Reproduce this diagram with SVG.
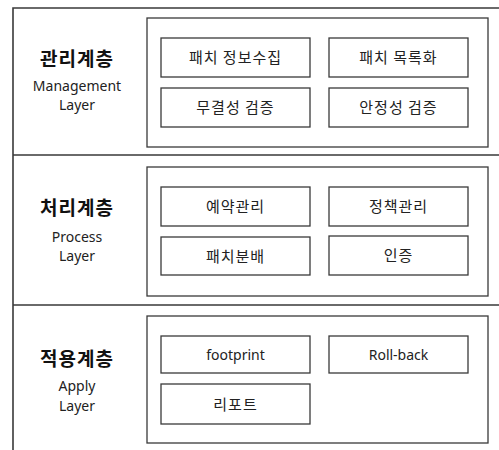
<svg xmlns="http://www.w3.org/2000/svg" width="499" height="450" viewBox="0 0 499 450">
<style>
.frame{fill:none;stroke:#3a3a3a;stroke-width:1.6}
.box{fill:#fff;stroke:#3a3a3a;stroke-width:1.3}
.t{font-family:"Noto Sans CJK KR","Noto Sans",sans-serif;font-size:15px;letter-spacing:1px;fill:#222;text-anchor:middle}
.h{font-family:"Noto Sans CJK KR","Noto Sans",sans-serif;font-size:19px;letter-spacing:1px;font-weight:bold;fill:#111;text-anchor:middle}
.e{font-family:"Noto Sans","Noto Sans CJK KR",sans-serif;font-size:14px;fill:#222;text-anchor:middle}
</style>
<rect width="499" height="450" fill="#fff"/>
<g id="frame">
<path class="frame" d="M499 8 H13 V450 M13 155 H499 M13 305 H499"/>
</g>
<g id="management">
<text class="h" x="77" y="66">관리계층</text>
<text class="e" x="77" y="91">Management</text>
<text class="e" x="77" y="110">Layer</text>
<rect class="box" x="147" y="18" width="341" height="129"/>
<g id="m1"><rect class="box" x="161" y="38" width="149" height="39"/><text class="t" x="235.5" y="63">패치 정보수집</text></g>
<g id="m2"><rect class="box" x="329" y="38" width="139" height="39"/><text class="t" x="398.5" y="63">패치 목록화</text></g>
<g id="m3"><rect class="box" x="161" y="88" width="149" height="39"/><text class="t" x="235.5" y="113">무결성 검증</text></g>
<g id="m4"><rect class="box" x="329" y="88" width="139" height="39"/><text class="t" x="398.5" y="113">안정성 검증</text></g>
</g>
<g id="process">
<text class="h" x="77" y="215">처리계층</text>
<text class="e" x="77" y="242">Process</text>
<text class="e" x="77" y="261">Layer</text>
<rect class="box" x="147" y="167" width="341" height="129"/>
<g id="p1"><rect class="box" x="161" y="187" width="149" height="39"/><text class="t" x="235.5" y="212">예약관리</text></g>
<g id="p2"><rect class="box" x="329" y="187" width="139" height="39"/><text class="t" x="398.5" y="212">정책관리</text></g>
<g id="p3"><rect class="box" x="161" y="237" width="149" height="38"/><text class="t" x="235.5" y="262">패치분배</text></g>
<g id="p4"><rect class="box" x="329" y="236" width="139" height="39"/><text class="t" x="398.5" y="261">인증</text></g>
</g>
<g id="apply">
<text class="h" x="77" y="366">적용계층</text>
<text class="e" x="77" y="391">Apply</text>
<text class="e" x="77" y="411">Layer</text>
<rect class="box" x="147" y="316" width="341" height="127"/>
<g id="a1"><rect class="box" x="161" y="336" width="149" height="37"/><text class="e" x="235.5" y="360">footprint</text></g>
<g id="a2"><rect class="box" x="329" y="336" width="139" height="37"/><text class="e" x="398.5" y="360">Roll-back</text></g>
<g id="a3"><rect class="box" x="161" y="384" width="149" height="40"/><text class="t" x="235.5" y="410">리포트</text></g>
</g>
</svg>
